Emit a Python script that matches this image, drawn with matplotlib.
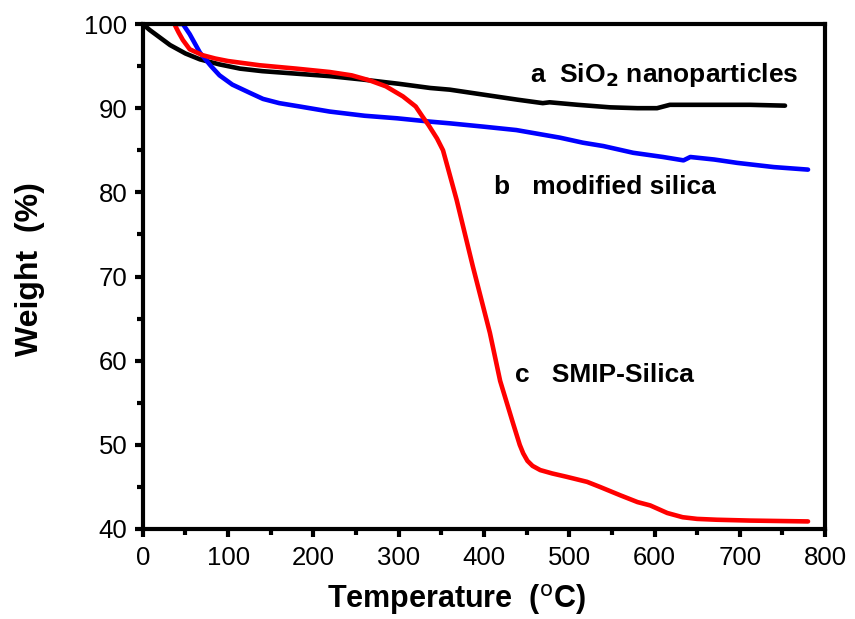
import matplotlib
matplotlib.use("Agg")
import matplotlib.pyplot as plt
from matplotlib.ticker import MultipleLocator

# a  SiO2 nanoparticles
temp_a = [0, 8, 20, 32, 50, 67, 90, 114, 140, 180, 220, 258, 300, 337, 360, 400,
          440, 469, 477, 510, 548, 580, 603, 618, 660, 712, 753]
weight_a = [100, 99.3, 98.4, 97.5, 96.5, 95.8, 95.2, 94.7, 94.4, 94.1, 93.8, 93.4,
            92.9, 92.4, 92.2, 91.6, 91.0, 90.6, 90.7, 90.4, 90.1, 90.0, 90.0, 90.4,
            90.4, 90.4, 90.3]

# b  modified silica
temp_b = [40, 47, 55, 67, 80, 90, 105, 126, 141, 160, 184, 219, 260, 298, 337, 360,
          400, 438, 489, 516, 540, 575, 610, 634, 642, 670, 697, 740, 780]
weight_b = [100, 100, 98.8, 96.6, 95.0, 93.9, 92.8, 91.8, 91.1, 90.6, 90.2, 89.6,
            89.1, 88.8, 88.4, 88.2, 87.8, 87.4, 86.5, 85.9, 85.5, 84.7, 84.2, 83.8,
            84.2, 83.9, 83.5, 83.0, 82.7]

# c  SMIP-Silica
temp_c = [37, 42, 47, 55, 70, 85, 100, 137, 180, 219, 245, 266, 285, 305, 320, 328,
          335, 345, 352, 358, 368, 387, 407, 419, 434, 442, 446, 451, 457, 466, 480,
          497, 521, 536, 560, 580, 595, 615, 633, 650, 673, 712, 780]
weight_c = [100, 99.0, 98.1, 97.0, 96.3, 95.9, 95.6, 95.1, 94.7, 94.3, 93.9, 93.3,
            92.6, 91.4, 90.2, 89.0, 88.0, 86.4, 85.0, 82.8, 79.1, 71.2, 63.3, 57.6,
            52.6, 50.0, 49.0, 48.1, 47.5, 47.0, 46.6, 46.2, 45.6, 45.0, 44.0, 43.2,
            42.8, 41.9, 41.4, 41.2, 41.1, 41.0, 40.9]

xticks = [0, 100, 200, 300, 400, 500, 600, 700, 800]
yticks = [40, 50, 60, 70, 80, 90, 100]

plt.rcParams['font.family'] = ['Liberation Sans', 'DejaVu Sans']

fig = plt.figure(figsize=(8.55, 6.19), dpi=100)
ax = fig.add_axes([0.167, 0.1454, 0.798, 0.8158])

lw = 3.3
for t, w, c in [(temp_a, weight_a, 'black'), (temp_b, weight_b, '#0000ff'),
                (temp_c, weight_c, '#ff0000')]:
    ax.plot(t, w, color=c, lw=lw, solid_joinstyle='round', solid_capstyle='round')

ax.set_xlim(0, 800)
ax.set_ylim(40, 100)
ax.set_xticks(xticks)
ax.set_yticks(yticks)
ax.xaxis.set_minor_locator(MultipleLocator(50))
ax.yaxis.set_minor_locator(MultipleLocator(5))

for s in ax.spines.values():
    s.set_linewidth(3)
ax.tick_params(which='major', direction='out', length=6, width=3, labelsize=18.5)
ax.tick_params(axis='x', which='major', pad=6)
ax.tick_params(axis='y', which='major', pad=5)
ax.tick_params(which='minor', direction='out', length=4, width=3)
ax.tick_params(top=False, right=False)

ax.set_xlabel(r'Temperature  ($^{\mathrm{o}}$C)', fontsize=22, fontweight='bold')
ax.set_ylabel('Weight  (%)', fontsize=23, fontweight='bold')
ax.xaxis.set_label_coords(0.459, -0.105)
ax.yaxis.set_label_coords(-0.144, 0.515)

tfont = dict(fontsize=19, fontweight='bold', va='center', ha='left')
ax.text(454, 93.9, r'a  SiO$_{\mathbf{2}}$ nanoparticles', **tfont)
ax.text(412, 80.6, 'b   modified silica', **tfont)
ax.text(436, 58.3, 'c   SMIP-Silica', **tfont)

fig.savefig('out.png', dpi=100)
